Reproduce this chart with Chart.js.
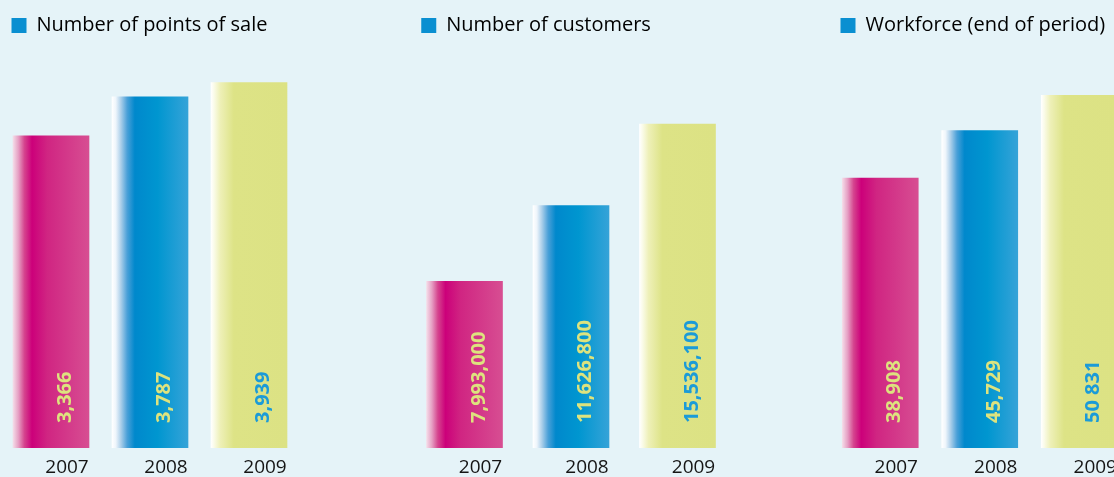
<!DOCTYPE html>
<html>
<head>
<meta charset="utf-8">
<script src="https://cdn.jsdelivr.net/npm/chart.js@4.4.1/dist/chart.umd.min.js"></script>
<style>
  html, body { margin: 0; padding: 0; width: 1114px; height: 477px; overflow: hidden; background: #e5f3f8; }
  canvas { position: absolute; top: 0; }
</style>
</head>
<body>
<canvas id="c1" width="300" height="488" style="left:0"></canvas>
<canvas id="c2" width="322" height="488" style="left:410px"></canvas>
<canvas id="c3" width="301" height="488" style="left:829px"></canvas>
<script>
// ── Data ────────────────────────────────────────────────
const years = ["2007", "2008", "2009"];

const pointsOfSale       = [3366, 3787, 3939];
const pointsOfSaleLabels = ["3,366", "3,787", "3,939"];

const customers       = [7993000, 11626800, 15536100];
const customersLabels = ["7,993,000", "11,626,800", "15,536,100"];

const workforce       = [38908, 45729, 50831];
const workforceLabels = ["38,908", "45,729", "50 831"];

const titles = ["Number of points of sale", "Number of customers", "Workforce (end of period)"];

// ── Styling ─────────────────────────────────────────────
const BAR_W = 76;
const legendBlue = "#0a8fd1";
const labelColors = ["#dde37e", "#dde37e", "#1b9bd8"];

const barStops = [
  [[0, "#f4dce8"], [0.07, "#e6a0c4"], [0.15, "#d5448e"], [0.25, "#cc007a"], [0.45, "#d02582"], [1, "#d74e92"]],
  [[0, "#ffffff"], [0.05, "#eef5fb"], [0.12, "#a8cde9"], [0.2, "#4aa0d8"], [0.3, "#0088cc"], [0.6, "#0096d0"], [1, "#35a3d8"]],
  [[0, "#ffffff"], [0.04, "#fafbe8"], [0.12, "#eef0b8"], [0.3, "#dde386"], [1, "#dce284"]],
];

function barFill(c) {
  const stops = barStops[c.dataIndex % 3];
  const xs = c.chart.scales.x;
  if (!xs || c.type !== "data") return stops[stops.length - 1][1];
  const cx = xs.getPixelForValue(c.dataIndex);
  const g = c.chart.ctx.createLinearGradient(cx - BAR_W / 2, 0, cx + BAR_W / 2, 0);
  stops.forEach(([o, col]) => g.addColorStop(o, col));
  return g;
}

// rotated value labels inside the bars
const valueLabels = {
  id: "valueLabels",
  afterDatasetsDraw(chart, args, opts) {
    const { ctx } = chart;
    const meta = chart.getDatasetMeta(0);
    ctx.save();
    ctx.font = 'bold 20px "Open Sans"';
    ctx.textAlign = "left";
    ctx.textBaseline = "alphabetic";
    meta.data.forEach((bar, i) => {
      ctx.save();
      ctx.translate(bar.x + 20, bar.base - 25);
      ctx.rotate(-Math.PI / 2);
      ctx.fillStyle = labelColors[i];
      ctx.fillText(opts.texts[i], 0, 0);
      ctx.restore();
    });
    ctx.restore();
  },
};

function makeChart(id, title, values, texts, yMax, padL, padR) {
  return new Chart(document.getElementById(id), {
    type: "bar",
    data: {
      labels: years,
      datasets: [{
        label: title,
        data: values,
        backgroundColor: barFill,
        borderWidth: 0,
        barThickness: BAR_W,
      }],
    },
    options: {
      responsive: false,
      animation: false,
      events: [],
      layout: { padding: { top: 5.5, left: padL, right: padR, bottom: 0 } },
      plugins: {
        tooltip: { enabled: false },
        legend: {
          position: "top",
          align: "start",
          labels: {
            boxWidth: 15,
            boxHeight: 15,
            padding: 10,
            color: "#151515",
            font: { family: '"Open Sans"', size: 20 },
            generateLabels: () => [{
              text: title, fillStyle: legendBlue, strokeStyle: legendBlue,
              lineWidth: 0, datasetIndex: 0, hidden: false,
            }],
          },
        },
        valueLabels: { texts },
      },
      scales: {
        x: {
          grid: { display: false, drawTicks: false },
          border: { display: false },
          ticks: {
            color: "#151515",
            padding: 11,
            labelOffset: 16,
            font: { family: '"Open Sans"', size: 19, lineHeight: 18 / 19 },
          },
        },
        y: { display: false, min: 0, max: yMax },
      },
    },
    plugins: [valueLabels],
  });
}

makeChart("c1", titles[0], pointsOfSale, pointsOfSaleLabels, 4340, 1.5, 1.5);
makeChart("c2", titles[1], customers, customersLabels, 19300000, 1.25, 1.25);
makeChart("c3", titles[2], workforce, workforceLabels, 58000, 1.5, 1);
</script>
</body>
</html>
